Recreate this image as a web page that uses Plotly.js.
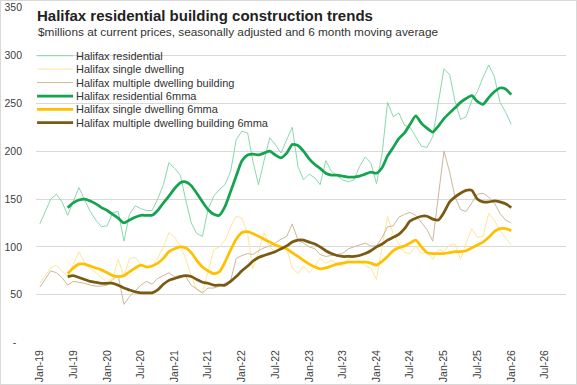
<!DOCTYPE html>
<html><head><meta charset="utf-8">
<script src="https://cdn.plot.ly/plotly-3.0.1.min.js"></script>
<style>html,body{margin:0;padding:0;background:#fff}#chart{width:577px;height:385px;box-sizing:border-box;border:1px solid #d9d9d9}</style>
</head><body><div id="chart"></div><script>
// Monthly categories (Jan-19 .. Jan-26)
const months = [
"2019-01","2019-02","2019-03","2019-04","2019-05","2019-06","2019-07","2019-08","2019-09","2019-10","2019-11","2019-12",
"2020-01","2020-02","2020-03","2020-04","2020-05","2020-06","2020-07","2020-08","2020-09","2020-10","2020-11","2020-12",
"2021-01","2021-02","2021-03","2021-04","2021-05","2021-06","2021-07","2021-08","2021-09","2021-10","2021-11","2021-12",
"2022-01","2022-02","2022-03","2022-04","2022-05","2022-06","2022-07","2022-08","2022-09","2022-10","2022-11","2022-12",
"2023-01","2023-02","2023-03","2023-04","2023-05","2023-06","2023-07","2023-08","2023-09","2023-10","2023-11","2023-12",
"2024-01","2024-02","2024-03","2024-04","2024-05","2024-06","2024-07","2024-08","2024-09","2024-10","2024-11","2024-12",
"2025-01","2025-02","2025-03","2025-04","2025-05","2025-06","2025-07","2025-08","2025-09","2025-10","2025-11","2025-12",
"2026-01"];
// 6-month moving average starts in Jun-19
const maMonths = [
"2019-06","2019-07","2019-08","2019-09","2019-10","2019-11","2019-12",
"2020-01","2020-02","2020-03","2020-04","2020-05","2020-06","2020-07","2020-08","2020-09","2020-10","2020-11","2020-12",
"2021-01","2021-02","2021-03","2021-04","2021-05","2021-06","2021-07","2021-08","2021-09","2021-10","2021-11","2021-12",
"2022-01","2022-02","2022-03","2022-04","2022-05","2022-06","2022-07","2022-08","2022-09","2022-10","2022-11","2022-12",
"2023-01","2023-02","2023-03","2023-04","2023-05","2023-06","2023-07","2023-08","2023-09","2023-10","2023-11","2023-12",
"2024-01","2024-02","2024-03","2024-04","2024-05","2024-06","2024-07","2024-08","2024-09","2024-10","2024-11","2024-12",
"2025-01","2025-02","2025-03","2025-04","2025-05","2025-06","2025-07","2025-08","2025-09","2025-10","2025-11","2025-12",
"2026-01"];

const residential = [
124,138,150,155,147,133,148,162,149,137,128,121,
122,136,137,106,134,143,140,138,138,150,165,188,
182,175,150,125,114,111,139,153,160,165,179,212,
221,219,190,165,190,214,207,198,212,225,184,170,
176,172,165,190,179,174,170,168,170,184,194,188,
166,198,251,236,240,227,225,215,205,204,215,250,
286,280,253,233,236,253,262,277,290,278,251,241,
228];
const single = [
62,70,78,81,75,69,82,95,83,77,73,68,
63,68,87,69,88,89,82,79,80,88,100,115,
110,101,88,70,55,52,75,97,100,107,121,132,
130,114,77,95,115,100,95,100,98,78,72,80,
73,80,88,83,86,82,80,87,90,86,80,78,
66,98,132,113,103,94,93,101,93,95,87,97,
95,102,103,87,104,119,110,111,135,128,117,110,
102];
const multiple = [
58,67,75,73,68,60,64,63,62,60,59,59,
60,66,70,40,48,54,60,64,61,67,70,73,
69,70,69,60,56,52,57,57,59,62,65,88,
91,93,92,96,99,101,104,108,111,124,107,104,
100,98,92,90,91,92,93,98,100,102,104,101,
101,110,121,122,131,134,136,133,125,118,106,150,
200,178,153,139,137,146,155,156,152,146,135,128,
125];
const residentialMA = [
141,146,149,150,148,145,141,138,134,130,
125,128,131,133,133,133,138,146,153,161,
167,168,164,156,147,139,134,133,142,158,
174,190,196,197,196,198,200,196,193,198,
207,206,200,192,186,182,177,175,175,174,
173,173,174,176,178,177,183,195,204,213,
219,228,237,229,224,220,226,234,240,245,
251,255,258,252,249,256,262,266,265,259];
const singleMA = [
72,78,82,82,80,78,76,73,70,69,
70,74,78,81,79,80,83,88,95,98,
100,99,94,86,79,75,72,74,84,97,
108,115,116,114,111,108,105,102,100,98,
94,90,86,82,79,77,78,80,82,83,
84,84,84,84,83,81,85,90,96,99,
101,104,107,100,94,93,93,93,94,95,
95,96,99,102,105,110,116,119,119,117];
const multipleMA = [
69,70,68,66,64,63,62,62,62,60,
57,55,53,52,52,52,55,61,65,67,
69,70,69,66,63,62,60,60,60,64,
69,75,80,85,89,91,93,95,98,101,
105,107,107,105,103,100,96,93,91,90,
90,90,91,93,96,100,103,107,110,113,
119,127,130,132,132,129,128,136,147,152,
156,159,159,150,147,147,148,147,145,141];

const seriesNames = ["Halifax residential","Halifax single dwelling","Halifax multiple dwelling building",
  "Halifax residential 6mma","Halifax single dwelling 6mma","Halifax multiple dwelling building 6mma"];
const yTickVals = [0,50,100,150,200,250,300,350];
const yTickText = ["-\u00a0\u00a0","50","100","150","200","250","300","350"];
const titleText = "<b>Halifax residential building construction trends</b>";
const subtitleText = "$millions at current prices, seasonally adjusted and 6 month moving average";

const colors = ["#8ad8ad","#ffe699","#c9b99a","#14a34e","#ffc000","#7a5a12"];
const widths = [1,1,1,2.75,2.75,2.75];
const xs = [months,months,months,maMonths,maMonths,maMonths];
const ys = [residential,single,multiple,residentialMA,singleMA,multipleMA];

const traces = ys.map((y,i)=>({
  type:"scatter", mode:"lines", name:seriesNames[i], x:xs[i], y:y,
  line:{color:colors[i], width:widths[i], shape: i>=3 ? "spline" : "linear", smoothing:0.6},
  showlegend:false, hoverinfo:"skip"
}));

const FONT = "'Liberation Sans',Arial,sans-serif";
// manual legend (compact rows as in reference)
const legRows = [0.855,0.815,0.775,0.735,0.695,0.656];
const shapes = [], annotations = [];
seriesNames.forEach((n,i)=>{
  shapes.push({type:"line", xref:"paper", yref:"paper", x0:0.002, x1:0.07, y0:legRows[i], y1:legRows[i],
    line:{color:colors[i], width: i>=3 ? 2.75 : 1}});
  annotations.push({xref:"paper", yref:"paper", x:0.071, y:legRows[i], xanchor:"left", yanchor:"middle",
    text:n, showarrow:false, font:{family:FONT, size:11, color:"#333333"}});
});
annotations.push({xref:"paper", yref:"paper", x:0.0, y:0.9256, xanchor:"left", yanchor:"middle",
  text:subtitleText, showarrow:false, font:{family:FONT, size:11.8, color:"#333333"}});

const layout = {
  width:575, height:383,
  margin:{l:35, r:10, t:6, b:41},
  paper_bgcolor:"#ffffff", plot_bgcolor:"#ffffff",
  font:{family:FONT, color:"#404040"},
  title:{
    text:titleText,
    xref:"container", x:36/575, xanchor:"left",
    yref:"container", y:1-9/383, yanchor:"top",
    font:{family:FONT, size:15, color:"#222222"}
  },
  xaxis:{
    type:"date", range:["2018-12-11","2026-10-25"],
    tick0:"2019-01-01", dtick:"M6", tickformat:"%b-%y", tickangle:-90,
    showgrid:false, zeroline:false, showline:false, ticks:"",
    ticklabelstandoff:4,
    tickfont:{family:FONT, size:10.5, color:"#404040"}
  },
  yaxis:{
    range:[-0.4,350.6], tickvals:yTickVals, ticktext:yTickText,
    showgrid:true, gridcolor:"#d9d9d9", gridwidth:1, zeroline:false, showline:false, ticks:"",
    ticklabelstandoff:13,
    tickfont:{family:FONT, size:10.5, color:"#404040"}
  },
  shapes:shapes, annotations:annotations
};
Plotly.newPlot("chart", traces, layout, {displayModeBar:false, staticPlot:true});
</script></body></html>
